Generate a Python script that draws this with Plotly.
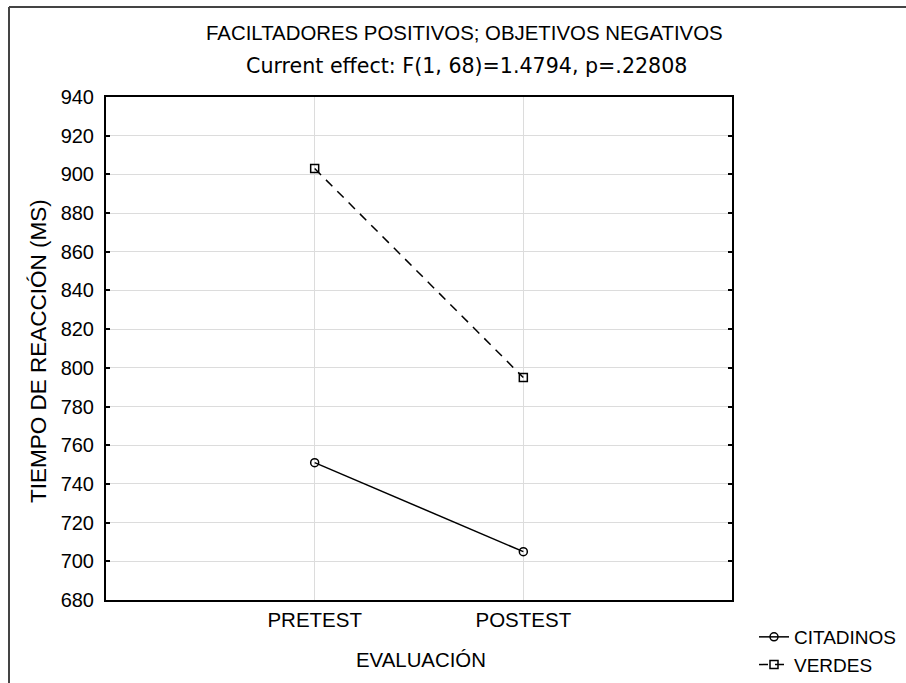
import plotly.graph_objects as go

categories = ["PRETEST", "POSTEST"]
citadinos = [751, 705]
verdes = [903, 795]
y_ticks = list(range(680, 941, 20))

W, H = 906, 683
# plot area in reference-image pixels
PL, PT, PR, PB = 106, 97, 732, 600
L, T = PL, PT
R, B = W - PR, H - PB
pw, ph = W - L - R, H - T - B

def px(x):
    return (x - L) / pw

def py(y):
    return (H - B - y) / ph

def cx(x):
    return x / W

def cy(y):
    return 1 - y / H

fig = go.Figure()
fig.add_trace(go.Scatter(
    x=categories, y=citadinos, name="CITADINOS", mode="lines+markers",
    line=dict(color="black", width=1.5),
    marker=dict(symbol="circle-open", size=8, color="black", line=dict(width=1.5)),
))
fig.add_trace(go.Scatter(
    x=categories, y=verdes, name="VERDES", mode="lines+markers",
    line=dict(color="black", width=1.5, dash="9px,7px"),
    marker=dict(symbol="square-open", size=8, color="black", line=dict(width=1.5)),
))

font = "Liberation Sans, Arial, sans-serif"
border = dict(color="#444444", width=2)
fig.update_layout(
    width=W, height=H,
    margin=dict(l=L, r=R, t=T, b=B, autoexpand=False),
    paper_bgcolor="white", plot_bgcolor="white",
    font=dict(family=font, size=20, color="black"),
    showlegend=True,
    legend=dict(x=cx(754), y=cy(618), xref="container", yref="container",
                xanchor="left", yanchor="top",
                font=dict(size=19), bgcolor="rgba(0,0,0,0)", tracegroupgap=0,
                itemwidth=30),
    xaxis=dict(
        type="category", range=[-1, 2], showgrid=True, gridcolor="#dcdcdc", gridwidth=1,
        showline=True, linecolor="black", linewidth=2, mirror=True,
        ticks="", tickfont=dict(size=20.5), zeroline=False, ticklabelstandoff=0,
    ),
    yaxis=dict(
        range=[680, 940], tickvals=y_ticks, showgrid=True, gridcolor="#dcdcdc", gridwidth=1,
        showline=True, linecolor="black", linewidth=2, mirror="ticks",
        ticks="inside", ticklen=4, tickcolor="black", tickwidth=1.5,
        tickfont=dict(size=20), zeroline=False, ticklabelstandoff=6,
    ),
    annotations=[
        dict(text="FACILTADORES POSITIVOS; OBJETIVOS NEGATIVOS", x=px(464), y=py(33),
             xref="paper", yref="paper", showarrow=False,
             font=dict(size=20.4, family=font), xanchor="center", yanchor="middle"),
        dict(text="Current effect: F(1, 68)=1.4794, p=.22808", x=px(466), y=py(66),
             xref="paper", yref="paper", showarrow=False,
             font=dict(size=20.6, family="DejaVu Sans, sans-serif"),
             xanchor="center", yanchor="middle"),
        dict(text="EVALUACIÓN", x=px(421), y=py(660),
             xref="paper", yref="paper", showarrow=False, font=dict(size=20.4),
             xanchor="center", yanchor="middle"),
        dict(text="TIEMPO DE REACCIÓN (MS)", x=px(38), y=py(351), textangle=-90,
             xref="paper", yref="paper", showarrow=False, font=dict(size=22.5),
             xanchor="center", yanchor="middle"),
    ],
    shapes=[
        dict(type="line", xref="paper", yref="paper",
             x0=px(9), y0=py(7), x1=px(906), y1=py(7), line=border),
        dict(type="line", xref="paper", yref="paper",
             x0=px(9), y0=py(7), x1=px(9), y1=py(683), line=border),
    ],
)

fig.write_html("out.html", post_script="document.body.style.margin='0';",
               config={"displayModeBar": False})
